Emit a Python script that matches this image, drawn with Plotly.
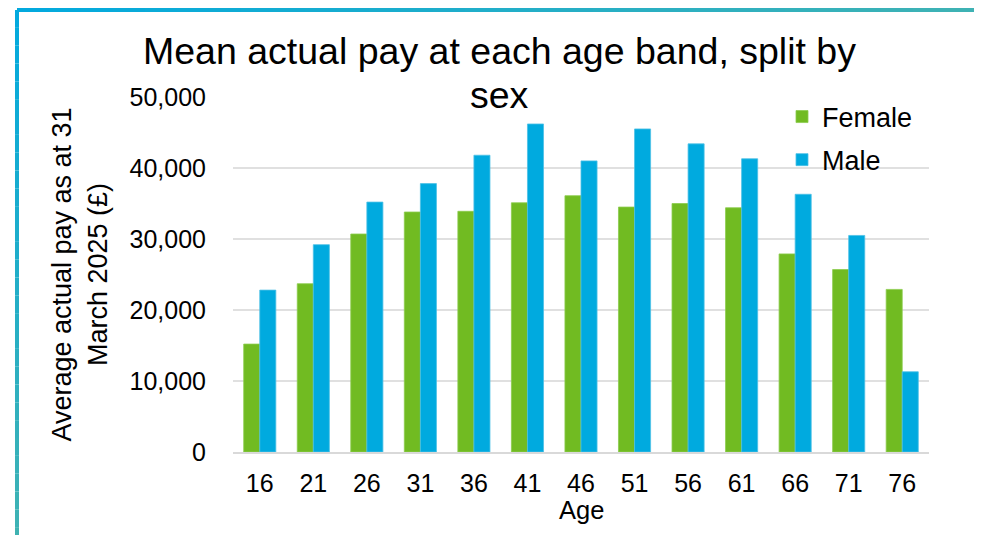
import plotly.graph_objects as go

ages = ["16", "21", "26", "31", "36", "41", "46", "51", "56", "61", "66", "71", "76"]
female = [15200, 23700, 30700, 33800, 33900, 35100, 36100, 34500, 35000, 34400, 27900, 25700, 22900]
male = [22800, 29200, 35200, 37800, 41800, 46200, 41000, 45500, 43400, 41300, 36300, 30500, 11300]
y_ticks = [0, 10000, 20000, 30000, 40000, 50000]

OFF = 8  # page body margin
WW, WH = 982, 535
W, H = WW - OFF, WH - OFF
L, R, T, B = 233 - OFF, 53, 97 - OFF, 83
PW, PH = W - L - R, H - T - B

def px(x):  # window pixel -> paper x
    return (x - OFF - L) / PW

def py(y):  # window pixel -> paper y
    return 1 - (y - OFF - T) / PH

GREEN = "#71bb22"
BLUE = "#00aadf"
FONT = "Liberation Sans, Arial, sans-serif"

fig = go.Figure()
fig.add_trace(go.Bar(x=ages, y=female, name="Female", marker_color=GREEN,
                     marker_line=dict(color="#8ccb4c", width=0.8), legendgroup="f"))
fig.add_trace(go.Bar(x=ages, y=male, name="Male", marker_color=BLUE,
                     marker_line=dict(color="#4cc0e6", width=0.8), legendgroup="m"))

# gradient frame
def lerp(c1, c2, t):
    return tuple(round(a + (b - a) * t) for a, b in zip(c1, c2))

C0, C1, C2 = (0, 169, 224), (62, 178, 180), (112, 190, 35)

def grad(t):
    t = max(0, min(1, t))
    if t < 0.5:
        return lerp(C0, C1, t / 0.5)
    return lerp(C1, C2, (t - 0.5) / 0.5)

def col(x, y):
    return "rgb(%d,%d,%d)" % grad((x / WW + y / WH) / 2)

shapes = []
N = 30
x0f, x1f, ytop, ybot = 17, 977, 10, 545
for i in range(N):
    a = x0f + (x1f - x0f) * i / N
    b = x0f + (x1f - x0f) * (i + 1) / N
    shapes.append(dict(type="line", xref="paper", yref="paper", x0=px(a), x1=px(b), y0=py(ytop), y1=py(ytop),
                       line=dict(color=col((a + b) / 2, ytop), width=4)))
for xs in (x0f, x1f):
    for i in range(N):
        a = ytop + (ybot - ytop) * i / N
        b = ytop + (ybot - ytop) * (i + 1) / N
        shapes.append(dict(type="line", xref="paper", yref="paper", x0=px(xs), x1=px(xs), y0=py(a), y1=py(b),
                           line=dict(color=col(xs, (a + b) / 2), width=4)))

annotations = [
    dict(text="Mean actual pay at each age band, split by", xref="paper", yref="paper",
         x=px(499), y=py(51), xanchor="center", yanchor="middle", showarrow=False,
         font=dict(size=37.5, family=FONT, color="black")),
    dict(text="sex", xref="paper", yref="paper",
         x=px(499), y=py(95), xanchor="center", yanchor="middle", showarrow=False,
         font=dict(size=37.5, family=FONT, color="black")),
    dict(text="Age", xref="paper", yref="paper",
         x=px(581), y=py(510), xanchor="center", yanchor="middle", showarrow=False,
         font=dict(size=25.5, family=FONT, color="black")),
]

fig.update_layout(
    width=W, height=H,
    margin=dict(l=L, r=R, t=T, b=B, autoexpand=False),
    paper_bgcolor="white", plot_bgcolor="white",
    font=dict(family=FONT, color="black", size=26),
    barmode="group", bargap=0.4, bargroupgap=0,
    legend=dict(x=px(782), y=py(92.5), xanchor="left", yanchor="top",
                bgcolor="rgba(0,0,0,0)", font=dict(size=27),
                traceorder="grouped", tracegroupgap=5, itemwidth=30),
    xaxis=dict(showline=True, linecolor="#d9d9d9", linewidth=2,
               ticks="outside", ticklen=8, tickcolor="rgba(0,0,0,0)",
               tickfont=dict(size=25), showgrid=False),
    yaxis=dict(title=dict(text="Average actual pay as at 31<br>March 2025 (£)", font=dict(size=27), standoff=14),
               range=[0, 50000], tickvals=y_ticks, tickformat=",",
               showgrid=True, gridcolor="#e0e0e0", gridwidth=2,
               ticks="outside", ticklen=21, tickcolor="rgba(0,0,0,0)",
               tickfont=dict(size=25), zeroline=False),
    shapes=shapes,
    annotations=annotations,
)

fig.write_html("out.html")
